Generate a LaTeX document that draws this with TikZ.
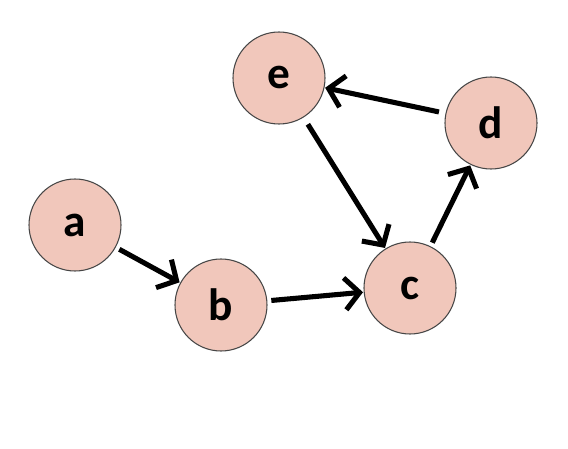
\documentclass[tikz,border=0pt]{standalone}
\usepackage{fontspec}
\setmainfont{Carlito}
\usetikzlibrary{arrows.meta}
\definecolor{nodefill}{RGB}{241,199,187}
\definecolor{nodeline}{RGB}{70,70,70}
\tikzset{
  vertex/.style={circle, draw=nodeline, line width=0.8pt, fill=nodefill, minimum size=69pt, inner sep=0pt, font=\fontsize{34}{34}\selectfont\bfseries},
  edge/.style={line width=3.8pt, -{Straight Barb[length=11pt, width=24pt, line width=3.8pt]}, shorten <=3pt, shorten >=0.5pt}
}
\begin{document}
\begin{tikzpicture}[x=0.75pt, y=-0.75pt]
\useasboundingbox (0,0) rectangle (568,449);
\node[vertex] (a) at (75,225) {a};
\node[vertex] (b) at (221,305) {b};
\node[vertex] (c) at (410,288) {c};
\node[vertex] (d) at (491,123) {d};
\node[vertex] (e) at (279,78) {e};
\draw[edge] (a) -- (b);
\draw[edge] (b) -- (c);
\draw[edge] (c) -- (d);
\draw[edge, shorten <=5pt] (d) -- (e);
\draw[edge, shorten <=6pt] (e) -- (c);
\end{tikzpicture}
\end{document}
